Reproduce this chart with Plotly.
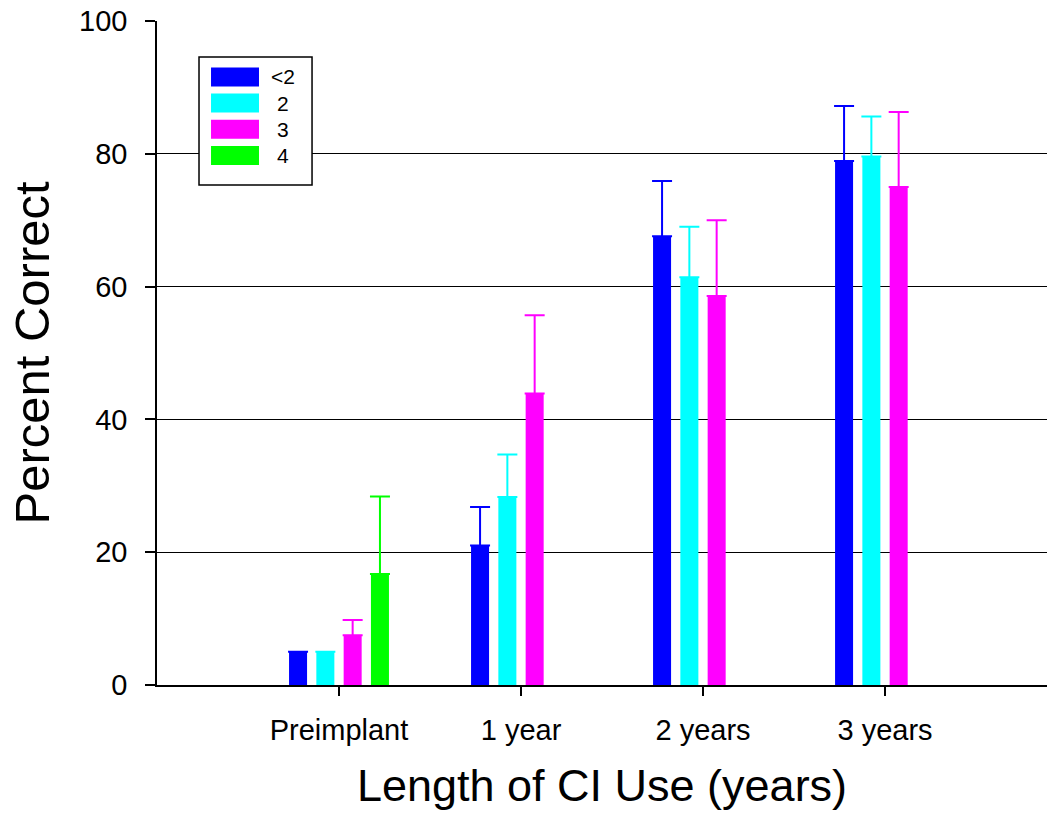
import plotly.graph_objects as go

categories = ["Preimplant", "1 year", "2 years", "3 years"]
series_names = ["<2", "2", "3", "4"]
colors = ["#0000FF", "#00FFFF", "#FF00FF", "#00FF00"]

values_lt2 = [5.0, 21.0, 67.6, 78.9]
values_2 = [5.0, 28.3, 61.4, 79.6]
values_3 = [7.5, 43.9, 58.6, 75.0]
values_4 = [16.7, None, None, None]

err_lt2 = [None, 5.8, 8.3, 8.3]
err_2 = [None, 6.4, 7.6, 6.0]
err_3 = [2.3, 11.8, 11.4, 11.3]
err_4 = [11.7, None, None, None]

y_ticks = [0, 20, 40, 60, 80, 100]

all_values = [values_lt2, values_2, values_3, values_4]
all_errs = [err_lt2, err_2, err_3, err_4]

FONT = "Liberation Sans, Arial, sans-serif"

fig = go.Figure()
for name, col, vals, errs in zip(series_names, colors, all_values, all_errs):
    fig.add_trace(go.Bar(
        x=categories, y=vals, name=name,
        marker=dict(color=col, line=dict(width=0)),
        error_y=dict(type="data", array=errs, arrayminus=[0] * len(errs),
                     symmetric=False, color=col, thickness=2, width=10),
        showlegend=False,
    ))

# custom legend box (paper coordinates)
L_x0, L_x1, L_y0, L_y1 = 0.0472, 0.1742, 0.753, 0.9458
fig.add_shape(type="rect", xref="paper", yref="paper",
              x0=L_x0, x1=L_x1, y0=L_y0, y1=L_y1,
              line=dict(color="black", width=1.5), fillcolor="white", layer="above")
row_top = 0.9158
row_step = 26.2 / 664
sw_h = 19 / 664
for i, (name, col) in enumerate(zip(series_names, colors)):
    yc = row_top - i * row_step
    fig.add_shape(type="rect", xref="paper", yref="paper",
                  x0=0.0607, x1=0.1146, y0=yc - sw_h / 2, y1=yc + sw_h / 2,
                  line=dict(width=0), fillcolor=col, layer="above")
    fig.add_annotation(xref="paper", yref="paper", x=0.1420, y=yc,
                       text=name, showarrow=False, xanchor="center", yanchor="middle",
                       font=dict(family=FONT, size=21, color="black"))

fig.update_layout(
    width=1049, height=813,
    margin=dict(l=157, r=2, t=21, b=128),
    paper_bgcolor="white", plot_bgcolor="white",
    barmode="group", bargap=0.4, bargroupgap=0.34,
    font=dict(family=FONT, color="black"),
    xaxis=dict(
        type="category", range=[-1, 3.89],
        showgrid=False, showline=True, linecolor="black", linewidth=1.5,
        ticks="outside", ticklen=9, tickwidth=1.5, tickcolor="black",
        tickfont=dict(family=FONT, size=29, color="black"),
        ticklabelstandoff=9,
        title=dict(text="Length of CI Use (years)", font=dict(family=FONT, size=45, color="black"),
                   standoff=25),
        zeroline=False,
    ),
    yaxis=dict(
        range=[0, 100], tickvals=y_ticks,
        showgrid=True, gridcolor="black", gridwidth=1.3,
        showline=True, linecolor="black", linewidth=1.5,
        ticks="outside", ticklen=10, tickwidth=1.5, tickcolor="black",
        tickfont=dict(family=FONT, size=29, color="black"),
        ticklabelstandoff=12,
        title=dict(text="Percent Correct", font=dict(family=FONT, size=49, color="black"),
                   standoff=14),
        zeroline=False,
    ),
)

fig.write_html("out.html", config={"displayModeBar": False},
               post_script="document.body.style.margin='0';document.body.style.overflow='hidden';")
